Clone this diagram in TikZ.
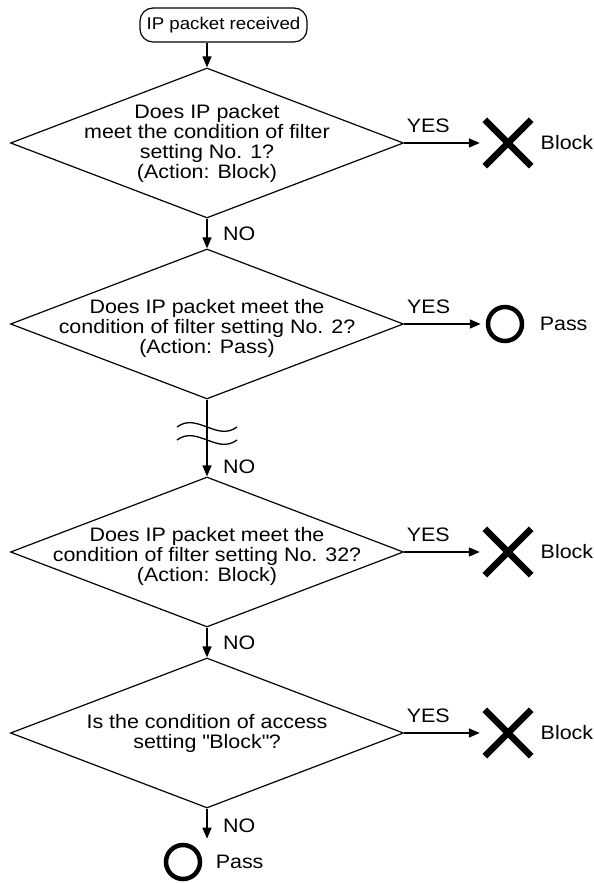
\documentclass[tikz,border=0pt]{standalone}
\usepackage{fontspec}
\setmainfont{Liberation Sans}[FakeStretch=1.1]
\usetikzlibrary{shapes.geometric, arrows.meta, positioning}

\begin{document}
\begin{tikzpicture}[
  x=1pt, y=1pt,
  font=\fontsize{19.5}{20}\selectfont,
  start/.style={draw, line width=1.2pt, rounded corners=13pt, minimum width=167pt, minimum height=34pt, font=\fontsize{17}{18}\selectfont},
  decision/.style={draw, diamond, line width=1.2pt, minimum width=393pt, minimum height=150pt, inner sep=0pt},
  question/.style={align=center, inner sep=0pt},
  cross/.style={minimum size=46pt, inner sep=0pt},
  xmark/.style={line width=6.5pt},
  okmark/.style={draw, circle, line width=4.5pt, minimum size=34pt, inner sep=0pt},
  arr/.style={-{Triangle[length=11pt,width=9pt]}, line width=1.6pt},
  side/.style={arr, shorten >=5pt},
  yes/.style={above=6pt, pos=0.3},
  no/.style={right=12pt}
]
\useasboundingbox (0,0) rectangle (594,883);

\node[start] (start) at (223.5,858) {IP packet received};

\node[decision] (d1) at (207,740) {};
\node[question] (q1) at (d1) {Does IP packet\\meet the condition of filter\\setting No. 1?\\(Action: Block)};
\node[decision] (d2) at (207,559) {};
\node[question] (q2) at (207,555) {Does IP packet meet the\\condition of filter setting No. 2?\\(Action: Pass)};
\node[decision] (d3) at (207,331) {};
\node[question] (q3) at (207,327) {Does IP packet meet the\\condition of filter setting No. 32?\\(Action: Block)};
\node[decision] (d4) at (207,150) {};
\node[question] (q4) at (d4) {Is the condition of access\\setting \textquotedbl Block\textquotedbl ?};

% results
\node[cross] (x1) at (508,740) {};
\node[right=6pt of x1] (b1) {Block};
\node[okmark] (p1) at (505,559) {};
\node[right=12pt of p1] (t1) {Pass};
\node[cross] (x3) at (508,331) {};
\node[right=6pt of x3] (b3) {Block};
\node[cross] (x4) at (508,150) {};
\node[right=6pt of x4] (b4) {Block};
\node[okmark] (p2) at (183,21) {};
\node[right=10pt of p2] (t2) {Pass};

\foreach \m in {x1, x3, x4}
  \draw[xmark] (\m.north west) -- (\m.south east) (\m.north east) -- (\m.south west);

\draw[arr] (start.south -| d1.north) -- (d1.north);
\draw[side] (d1.east) -- node[yes] {YES} (x1);
\draw[arr] (d1.south) -- node[no] {NO} (d2.north);
\draw[side] (d2.east) -- node[yes] {YES} (p1);
\draw[arr] (d2.south) -- node[no, pos=0.88] {NO} (d3.north);
\draw[side] (d3.east) -- node[yes] {YES} (x3);
\draw[arr] (d3.south) -- node[no] {NO} (d4.north);
\draw[side] (d4.east) -- node[yes] {YES} (x4);
\draw[arr, shorten >=4pt] (d4.south) -- node[no] {NO} (d4.south |- p2.north);

% break marks
\foreach \y in {456, 443}
  \draw[line width=1.3pt] (177,\y) .. controls (197,\y+15) and (217,\y-15) .. (237,\y);
\end{tikzpicture}
\end{document}
